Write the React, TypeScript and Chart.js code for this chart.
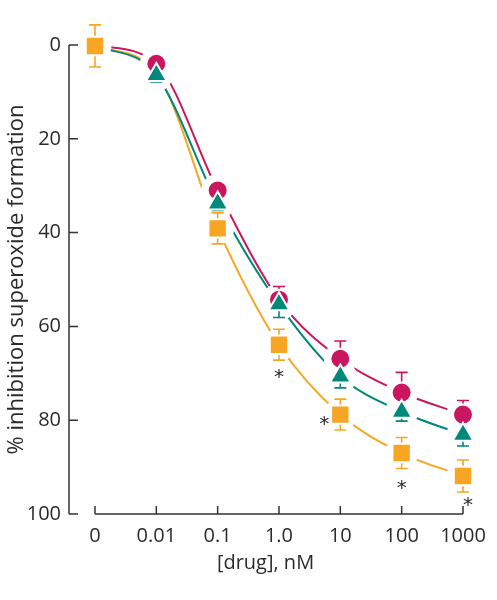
import React, { useEffect, useRef } from 'react';
import { Chart, registerables } from 'chart.js';
Chart.register(...registerables);

const doseLabels = ['0', '0.01', '0.1', '1.0', '10', '100', '1000'];
const yTickValues = [0, 20, 40, 60, 80, 100];
const circleValues = [0, 4, 31, 54.3, 66.9, 74.1, 78.8];
const circleErrors = [0, 0, 0, 2.8, 3.8, 4.3, 3.0];
const triangleValues = [0, 6.4, 33.8, 55.3, 70.7, 78.2, 83.1];
const triangleErrors = [0, 1.5, 1.5, 2.8, 2.4, 2.0, 2.4];
const squareValues = [0.2, 6, 39.1, 63.9, 78.8, 87, 91.9];
const squareErrors = [4.5, 0, 3.3, 3.3, 3.3, 3.3, 3.4];
const squareSignificant = [false, false, false, true, true, true, true];

const FONT = "'Open Sans', 'Noto Sans', sans-serif";
const TEXT = '#2a2a2a';
const AXIS = '#333333';

type Series = {
  values: number[];
  errors: number[];
  color: string;
  style: string;
  radius: number;
  hiddenAt: number[];
  errUp: boolean;
  errDown: boolean;
  order: number;
};

const seriesList: Series[] = [
  { values: circleValues, errors: circleErrors, color: '#C8175E', style: 'circle', radius: 10, hiddenAt: [0], errUp: true, errDown: false, order: 3 },
  { values: triangleValues, errors: triangleErrors, color: '#00887A', style: 'triangle', radius: 12, hiddenAt: [0], errUp: false, errDown: true, order: 2 },
  { values: squareValues, errors: squareErrors, color: '#F6A623', style: 'rect', radius: 13, hiddenAt: [1], errUp: true, errDown: true, order: 1 },
];

const asteriskOffsets: Record<number, [number, number]> = {
  3: [0, 29],
  4: [-16, 6],
  5: [0, 31],
  6: [5, 25],
};

function drawHalosAndErrors(chart: any) {
  const { ctx } = chart;
  const xs = chart.scales.x;
  const ys = chart.scales.y;
  ctx.save();
  ctx.fillStyle = '#ffffff';
  seriesList.forEach((s) => {
    s.values.forEach((v, i) => {
      if (s.hiddenAt.includes(i)) return;
      ctx.beginPath();
      ctx.arc(xs.getPixelForValue(i), ys.getPixelForValue(v), 16.5, 0, Math.PI * 2);
      ctx.fill();
    });
  });
  ctx.lineWidth = 1.6;
  seriesList.forEach((s) => {
    ctx.strokeStyle = s.color;
    s.values.forEach((v, i) => {
      const e = s.errors[i];
      if (!e || s.hiddenAt.includes(i)) return;
      const px = xs.getPixelForValue(i);
      const ends: number[] = [];
      if (s.errUp) ends.push(v - e);
      if (s.errDown) ends.push(v + e);
      ends.forEach((ev) => {
        const py0 = ys.getPixelForValue(v);
        const py1 = ys.getPixelForValue(ev);
        ctx.beginPath();
        ctx.moveTo(px, py0);
        ctx.lineTo(px, py1);
        ctx.moveTo(px - 6, py1);
        ctx.lineTo(px + 6, py1);
        ctx.stroke();
      });
    });
  });
  ctx.restore();
}

const decorPlugin = {
  id: 'decor',
  beforeDatasetsDraw(chart: any) {
    const { ctx, chartArea } = chart;
    const xs = chart.scales.x;
    const ys = chart.scales.y;
    ctx.save();
    ctx.strokeStyle = AXIS;
    ctx.lineWidth = 1.5;
    const ax = chartArea.left + 1;
    ctx.beginPath();
    ctx.moveTo(ax, ys.getPixelForValue(0));
    ctx.lineTo(ax, ys.getPixelForValue(100));
    yTickValues.forEach((v) => {
      const py = ys.getPixelForValue(v);
      ctx.moveTo(ax, py);
      ctx.lineTo(ax + 9, py);
    });
    ctx.stroke();
    const by = ys.getPixelForValue(100);
    ctx.beginPath();
    ctx.moveTo(xs.getPixelForValue(0), by);
    ctx.lineTo(xs.getPixelForValue(doseLabels.length - 1), by);
    doseLabels.forEach((_, i) => {
      const px = xs.getPixelForValue(i);
      ctx.moveTo(px, by);
      ctx.lineTo(px, by - 8);
    });
    ctx.stroke();
    ctx.restore();
  },
  afterDatasetDraw(chart: any, args: any) {
    if (args.index === 0) drawHalosAndErrors(chart);
  },
  afterDatasetsDraw(chart: any) {
    const { ctx } = chart;
    const xs = chart.scales.x;
    const ys = chart.scales.y;
    ctx.save();
    ctx.fillStyle = TEXT;
    ctx.font = "20px 'DejaVu Sans'";
    ctx.textAlign = 'center';
    ctx.textBaseline = 'alphabetic';
    const m = ctx.measureText('*');
    const shift = (m.actualBoundingBoxAscent - m.actualBoundingBoxDescent) / 2;
    squareSignificant.forEach((sig, i) => {
      if (!sig) return;
      const off = asteriskOffsets[i] || [0, 28];
      const cx = xs.getPixelForValue(i) + off[0];
      const cy = ys.getPixelForValue(squareValues[i]) + off[1];
      ctx.fillText('*', cx, cy + shift);
    });
    ctx.restore();
  },
};

export default function App() {
  const ref = useRef<HTMLCanvasElement>(null);
  useEffect(() => {
    if (!ref.current) return;
    const lineSets = seriesList.map((s, k) => ({
      type: 'line' as const,
      data: s.values.map((v, i) => ({ x: i, y: v })),
      borderColor: s.color,
      borderWidth: 2,
      pointRadius: 0,
      pointHoverRadius: 0,
      cubicInterpolationMode: 'monotone' as const,
      fill: false,
      order: 10 + k,
    }));
    const markerSets = seriesList.map((s) => ({
      type: 'line' as const,
      data: s.values.map((v, i) => ({ x: i, y: v })),
      showLine: false,
      pointStyle: s.style,
      pointRadius: s.values.map((_, i) => (s.hiddenAt.includes(i) ? 0 : s.radius)),
      pointBackgroundColor: s.color,
      pointBorderColor: '#ffffff',
      pointBorderWidth: 2,
      clip: false as const,
      order: s.order,
    }));
    const chart = new Chart(ref.current, {
      type: 'line',
      data: { datasets: [...lineSets, ...markerSets] as any },
      plugins: [decorPlugin],
      options: {
        animation: false,
        responsive: false,
        devicePixelRatio: 1,
        layout: { padding: { top: 45, right: 34, bottom: 0, left: 0 } },
        plugins: { legend: { display: false }, tooltip: { enabled: false } },
        scales: {
          x: {
            type: 'linear',
            min: -0.44,
            max: doseLabels.length - 1,
            afterBuildTicks: (scale: any) => {
              scale.ticks = doseLabels.map((_, i) => ({ value: i }));
            },
            afterFit: (scale: any) => {
              scale.height = 86;
            },
            grid: { display: false, drawTicks: false },
            border: { display: false },
            ticks: {
              autoSkip: false,
              maxRotation: 0,
              padding: 10,
              color: TEXT,
              font: { family: FONT, size: 20 },
              callback: (v: any) => doseLabels[v as number] ?? '',
            },
            title: {
              display: true,
              text: '[drug], nM',
              color: TEXT,
              font: { family: FONT, size: 20 },
              padding: { top: 0, bottom: 25 },
            },
          },
          y: {
            type: 'linear',
            reverse: true,
            min: 0,
            max: 100,
            afterBuildTicks: (scale: any) => {
              scale.ticks = yTickValues.map((v) => ({ value: v }));
            },
            afterFit: (scale: any) => {
              scale.width = 68;
            },
            grid: { display: false, drawTicks: false },
            border: { display: false },
            ticks: {
              padding: 7,
              color: TEXT,
              font: { family: FONT, size: 20 },
            },
            title: {
              display: true,
              text: '% inhibition superoxide formation',
              color: TEXT,
              font: { family: FONT, size: 22 },
              padding: { top: 4, bottom: 0 },
            },
          },
        },
      },
    });
    return () => chart.destroy();
  }, []);
  return (
    <div style={{ position: 'absolute', left: 0, top: 0, width: 497, height: 600 }}>
      <canvas ref={ref} width={497} height={600} style={{ display: 'block' }} />
    </div>
  );
}
